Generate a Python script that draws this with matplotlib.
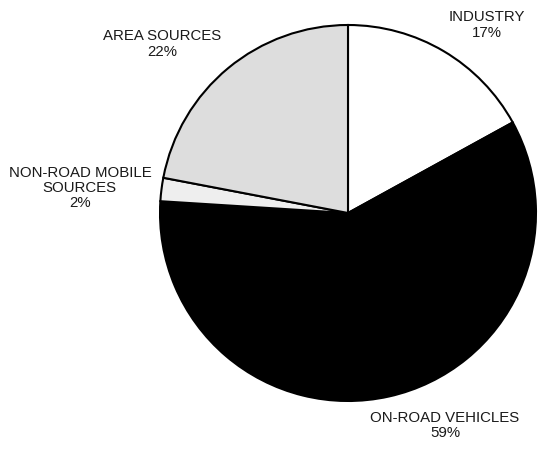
import matplotlib.pyplot as plt

categories = ["INDUSTRY", "ON-ROAD VEHICLES", "NON-ROAD MOBILE\nSOURCES", "AREA SOURCES"]
shares = [17, 59, 2, 22]
colors = ["#FFFFFF", "#000000", "#EEEEEE", "#DDDDDD"]

# label anchor positions (data coords, pie radius = 1)
label_pos = [(0.739, 1.0), (0.516, -1.128), (-1.426, 0.133), (-0.989, 0.899)]

plt.rcParams["font.family"] = ["Liberation Sans", "DejaVu Sans"]

fig = plt.figure(figsize=(5.39, 4.49), dpi=100)
ax = fig.add_axes([160 / 539, 48 / 449, 376 / 539, 376 / 449])
ax.pie(shares, colors=colors, startangle=90, counterclock=False,
       wedgeprops={"edgecolor": "black", "linewidth": 1.5})
ax.set_xlim(-1, 1)
ax.set_ylim(-1, 1)
ax.set_aspect("equal")
ax.axis("off")

for name, val, (x, y) in zip(categories, shares, label_pos):
    ax.text(x, y, f"{name}\n{val}%", ha="center", va="center",
            fontsize=10.8, color="#1a1a1a", linespacing=1.1, clip_on=False)

fig.savefig("out.png", dpi=100)
